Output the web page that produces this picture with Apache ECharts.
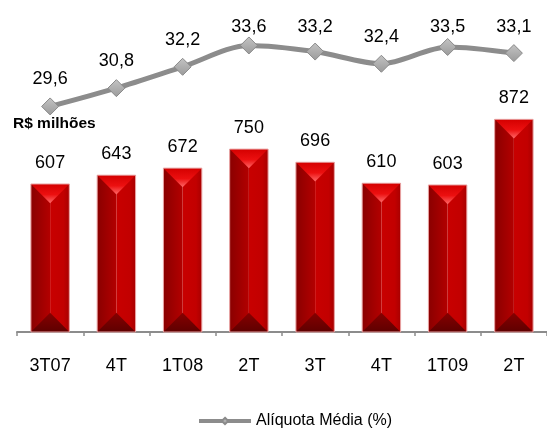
<!DOCTYPE html>
<html>
<head>
<meta charset="utf-8">
<script src="https://cdn.jsdelivr.net/npm/echarts@6/dist/echarts.min.js"></script>
<style>
  html, body { margin: 0; padding: 0; background: #ffffff; }
  #chart { width: 547px; height: 428px; }
</style>
</head>
<body>
<div id="chart"></div>
<script>
// Quarterly figures
const categories = ['3T07', '4T', '1T08', '2T', '3T', '4T', '1T09', '2T'];
const valoresMilhoes = [607, 643, 672, 750, 696, 610, 603, 872];   // R$ milhões (columns)
const aliquotaMedia = [29.6, 30.8, 32.2, 33.6, 33.2, 32.4, 33.5, 33.1]; // % (line)
const legendName = 'Alíquota Média (%)';
const unitLabel = 'R$ milhões';

const FONT = "'Liberation Sans', Arial, sans-serif";

// Bevelled column: dark left half, lighter right half, bright top wedge, dark bottom wedge
function renderColumn(params, api) {
  const idx = api.value(0);
  const val = api.value(1);
  const topPt = api.coord([idx, val]);
  const basePt = api.coord([idx, 0]);
  const w = api.size([1, 0])[0] * 0.58;
  const cx = topPt[0];
  const x0 = cx - w / 2, x1 = cx + w / 2;
  const top = topPt[1], base = basePt[1];
  const h = base - top;
  const wedge = Math.min(w / 2, h / 2);

  return {
    type: 'group',
    children: [
      { type: 'rect', shape: { x: x0, y: top, width: w / 2, height: h },
        style: { fill: new echarts.graphic.LinearGradient(0, 0, 1, 0, [
          { offset: 0, color: '#8a0000' }, { offset: 1, color: '#b30000' }]) } },
      { type: 'rect', shape: { x: cx, y: top, width: w / 2, height: h },
        style: { fill: new echarts.graphic.LinearGradient(0, 0, 1, 0, [
          { offset: 0, color: '#c80000' }, { offset: 0.7, color: '#c20000' }, { offset: 1, color: '#a80000' }]) } },
      { type: 'polygon', shape: { points: [[x0, top], [x1, top], [cx, top + wedge]] },
        style: { fill: new echarts.graphic.LinearGradient(0, 0, 0, 1, [
          { offset: 0, color: '#d40000' }, { offset: 0.55, color: '#ec1010' }, { offset: 1, color: '#ff6a6a' }]) } },
      { type: 'polygon', shape: { points: [[x0, base], [x1, base], [cx, base - wedge]] },
        style: { fill: new echarts.graphic.LinearGradient(0, 0, 0, 1, [
          { offset: 0, color: '#860000' }, { offset: 1, color: '#5e0000' }]) } },
      { type: 'rect', shape: { x: x0, y: top, width: w, height: h },
        style: { fill: 'none', stroke: '#e9a3a3', lineWidth: 1 } },
      { type: 'text', style: { text: String(val), x: cx, y: top - 21, align: 'center',
        verticalAlign: 'middle', font: '18px ' + FONT, fill: '#000000' } }
    ]
  };
}

const chart = echarts.init(document.getElementById('chart'), null, { renderer: 'canvas' });

chart.setOption({
  animation: false,
  backgroundColor: '#ffffff',
  textStyle: { fontFamily: FONT },
  grid: { left: 17, right: -6, top: 15, bottom: 96 },
  legend: {
    data: [legendName],
    left: 192,
    top: 408,
    itemWidth: 52,
    itemHeight: 8,
    itemGap: 5,
    textStyle: { fontSize: 16, color: '#000000', fontFamily: FONT },
    lineStyle: { width: 4 }
  },
  graphic: [
    { type: 'text', left: 13, top: 116,
      style: { text: unitLabel, font: 'bold 15.5px ' + FONT, fill: '#000000' } }
  ],
  xAxis: {
    type: 'category',
    data: categories,
    boundaryGap: true,
    axisLine: { show: true, lineStyle: { color: '#8c8c8c', width: 2 } },
    axisTick: { show: true, length: 4, lineStyle: { color: '#8c8c8c', width: 1.5 } },
    axisLabel: { margin: 25, fontSize: 18, color: '#000000', fontFamily: FONT },
    splitLine: { show: false }
  },
  yAxis: [
    { type: 'value', min: 0, max: 1300, show: false, splitLine: { show: false } },
    { type: 'value', min: 14.8, max: 35.6, show: false, splitLine: { show: false } }
  ],
  series: [
    {
      type: 'custom',
      name: unitLabel,
      xAxisIndex: 0,
      yAxisIndex: 0,
      renderItem: renderColumn,
      encode: { x: 0, y: 1 },
      data: valoresMilhoes.map((v, i) => [i, v]),
      z: 2
    },
    {
      type: 'line',
      name: legendName,
      yAxisIndex: 1,
      data: aliquotaMedia,
      smooth: 0.3,
      symbol: 'diamond',
      symbolSize: 17,
      z: 5,
      lineStyle: { color: '#8c8c8c', width: 5 },
      itemStyle: {
        color: new echarts.graphic.LinearGradient(0, 0, 0, 1, [
          { offset: 0, color: '#c4c4c4' }, { offset: 1, color: '#9a9a9a' }]),
        borderColor: '#8a8a8a',
        borderWidth: 1
      },
      label: {
        show: true,
        position: 'top',
        distance: 9,
        fontSize: 18,
        color: '#000000',
        fontFamily: FONT,
        formatter: (p) => p.value.toFixed(1).replace('.', ',')
      },
      // keep the value labels inside the plot's top edge
      labelLayout: (p) => ({
        x: p.labelRect.x + p.labelRect.width / 2,
        y: Math.max(p.labelRect.y + p.labelRect.height / 2, 27),
        align: 'center',
        verticalAlign: 'middle'
      })
    }
  ]
});
</script>
</body>
</html>
